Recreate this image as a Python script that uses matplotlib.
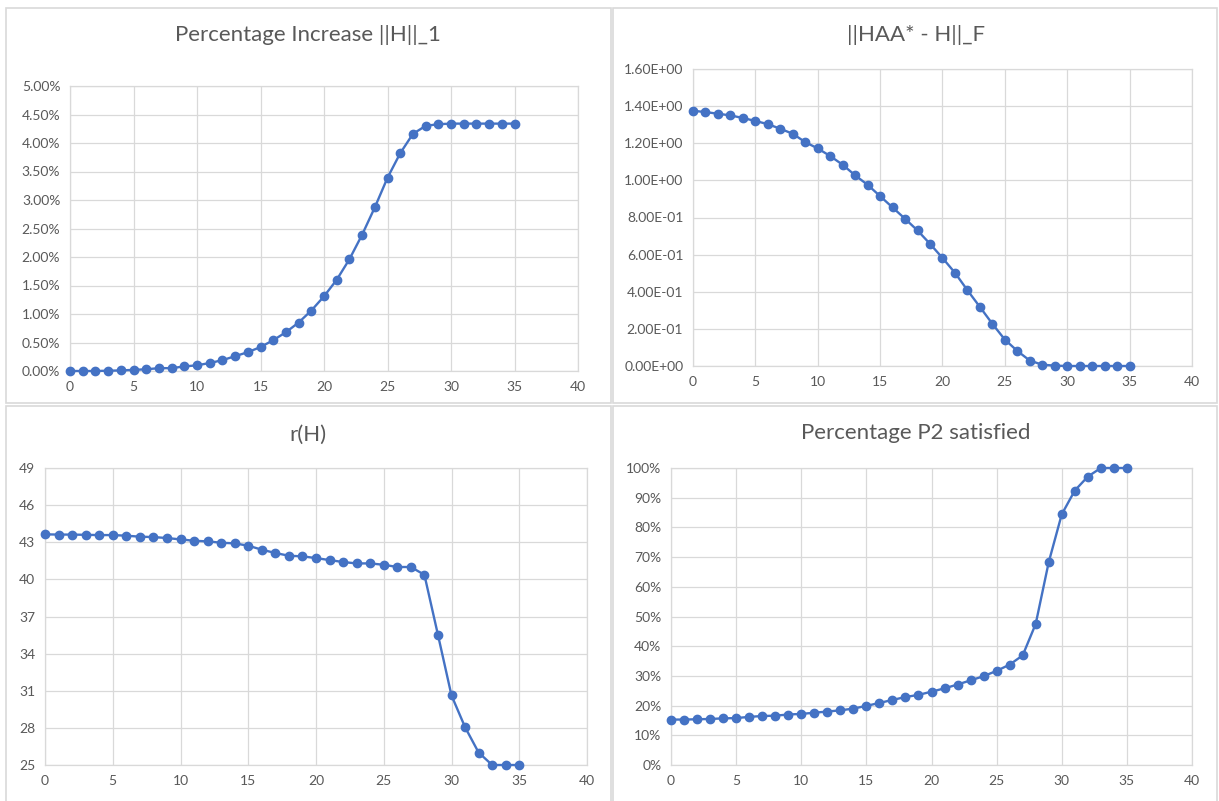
import matplotlib.pyplot as plt
from matplotlib.patches import Rectangle
from matplotlib.ticker import FuncFormatter

plt.rcParams['font.family'] = ['Lato', 'DejaVu Sans']

# iteration index, shared by all four charts
iters = list(range(36))

# Percentage increase ||H||_1 (in %)
pct_increase = [0.00, 0.00, 0.00, 0.005, 0.01, 0.02, 0.03, 0.05, 0.05, 0.08,
                0.10, 0.14, 0.19, 0.26, 0.33, 0.42, 0.54, 0.68, 0.85, 1.06,
                1.31, 1.60, 1.96, 2.39, 2.87, 3.39, 3.82, 4.16, 4.30, 4.33,
                4.34, 4.34, 4.34, 4.34, 4.34, 4.34]

# ||HAA* - H||_F
frob_err = [1.375, 1.368, 1.359, 1.350, 1.336, 1.320, 1.303, 1.278, 1.251, 1.206,
            1.172, 1.131, 1.084, 1.027, 0.976, 0.915, 0.854, 0.793, 0.730, 0.658,
            0.582, 0.502, 0.408, 0.318, 0.227, 0.142, 0.081, 0.029, 0.007, 0.002,
            0.0, 0.0, 0.0, 0.0, 0.0, 0.0]

# r(H)
r_h = [43.64, 43.62, 43.62, 43.60, 43.58, 43.58, 43.53, 43.45, 43.42, 43.34,
       43.23, 43.12, 43.07, 42.96, 42.91, 42.72, 42.40, 42.13, 41.91, 41.86,
       41.72, 41.56, 41.40, 41.29, 41.29, 41.18, 41.00, 41.00, 40.37, 35.52,
       30.62, 28.06, 26.01, 25.0, 25.0, 25.0]

# Percentage P2 satisfied (in %)
p2_pct = [15.3, 15.3, 15.4, 15.5, 15.7, 15.8, 16.2, 16.5, 16.6, 17.0,
          17.2, 17.6, 18.0, 18.4, 19.0, 19.9, 20.9, 21.9, 22.9, 23.6,
          24.7, 25.8, 27.1, 28.5, 29.9, 31.7, 33.8, 36.9, 47.5, 68.3,
          84.4, 92.4, 97.1, 100.0, 100.0, 100.0]

W, H = 1219, 801
blue = '#4472C4'
grid_c = '#D9D9D9'
text_c = '#595959'

fig = plt.figure(figsize=(W / 100, H / 100), dpi=100)

# chart frames (pixel boxes: x0, y0, x1, y1)
frames = [(6, 8, 611, 403), (613, 8, 1217, 403),
          (6, 406, 611, 820), (613, 406, 1217, 820)]
for x0, y0, x1, y1 in frames:
    fig.patches.append(Rectangle((x0 / W, 1 - y1 / H), (x1 - x0) / W, (y1 - y0) / H,
                                 transform=fig.transFigure, fill=False,
                                 edgecolor=grid_c, linewidth=1.2))


def make_ax(left, right, top, bottom):
    return fig.add_axes([left / W, 1 - bottom / H, (right - left) / W, (bottom - top) / H])


def style(ax, title, title_xy, yticks, fmt):
    ax.set_xlim(0, 40)
    ax.set_xticks(range(0, 41, 5))
    ax.set_ylim(yticks[0], yticks[-1])
    ax.set_yticks(yticks)
    ax.yaxis.set_major_formatter(FuncFormatter(fmt))
    ax.grid(True, color=grid_c, linewidth=0.9)
    ax.set_axisbelow(True)
    for s in ax.spines.values():
        s.set_color(grid_c)
        s.set_linewidth(0.9)
    ax.tick_params(length=0, labelsize=10, colors=text_c, pad=7)
    fig.text(title_xy[0] / W, 1 - title_xy[1] / H, title, ha='center', va='center',
             fontsize=16, color=text_c)


def plot_series(ax, y):
    ax.plot(iters, y, color=blue, linewidth=1.7, marker='o', markersize=6,
            clip_on=False, zorder=3)


ax1 = make_ax(70, 578, 86, 371)
plot_series(ax1, pct_increase)
style(ax1, 'Percentage Increase ||H||_1', (308, 35),
      [i * 0.5 for i in range(11)], lambda v, p: f'{v:.2f}%')

ax2 = make_ax(693, 1192, 69, 366)
plot_series(ax2, frob_err)
style(ax2, '||HAA* - H||_F', (916, 35),
      [i * 0.2 for i in range(9)], lambda v, p: f'{v:.2E}')

ax3 = make_ax(45, 587, 468, 765)
plot_series(ax3, r_h)
style(ax3, 'r(H)', (308, 435),
      [25, 28, 31, 34, 37, 40, 43, 46, 49], lambda v, p: f'{v:.0f}')

ax4 = make_ax(671, 1192, 468, 765)
plot_series(ax4, p2_pct)
style(ax4, 'Percentage P2 satisfied', (916, 433),
      list(range(0, 101, 10)), lambda v, p: f'{v:.0f}%')

fig.savefig('out.png', dpi=100)
